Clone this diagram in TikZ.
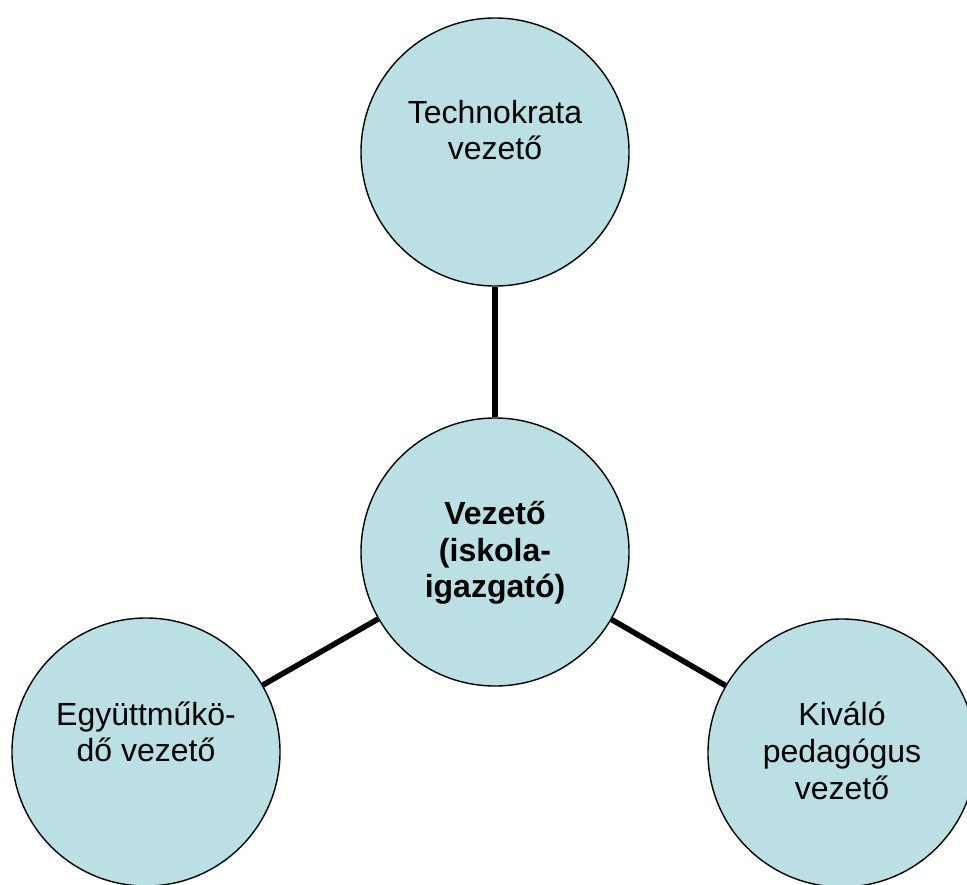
\documentclass[tikz,border=0pt]{standalone}
\usepackage{fontspec}
\setmainfont{Liberation Sans}
\usetikzlibrary{positioning}
\definecolor{korszin}{RGB}{187,224,227}

\begin{document}
\begin{tikzpicture}[x=1pt,y=-1pt,
  kor/.style={circle,draw=black,line width=1.4pt,fill=korszin,minimum size=268pt,inner sep=0pt},
  felirat/.style={align=center,inner sep=0pt,font=\fontsize{32}{36.7}\selectfont},
  vonal/.style={line width=5.5pt}]
\useasboundingbox (0,0) rectangle (967,884);
% circles
\node[kor] (vezeto) at (495,552) {};
\node[kor] (techno) at (495,152) {};
\node[kor] (egyutt) at (146,752) {};
\node[kor] (kivalo) at (842,753) {};
% connectors from the middle circle
\draw[vonal] (vezeto) -- (techno);
\draw[vonal] (vezeto) -- (egyutt);
\draw[vonal] (vezeto) -- (kivalo);
% texts
\node[felirat] (tvezeto) at (495,553) {\bfseries Vezető\\\bfseries (iskola-\\\bfseries igazgató)};
\node[felirat] (ttechno) at (495,130) {Technokrata\\vezető};
\node[felirat] (tegyutt) at (146,732) {Együttműkö-\\dő vezető};
\node[felirat] (tkivalo) at (842,751) {Kiváló\\pedagógus\\vezető};
\end{tikzpicture}
\end{document}
